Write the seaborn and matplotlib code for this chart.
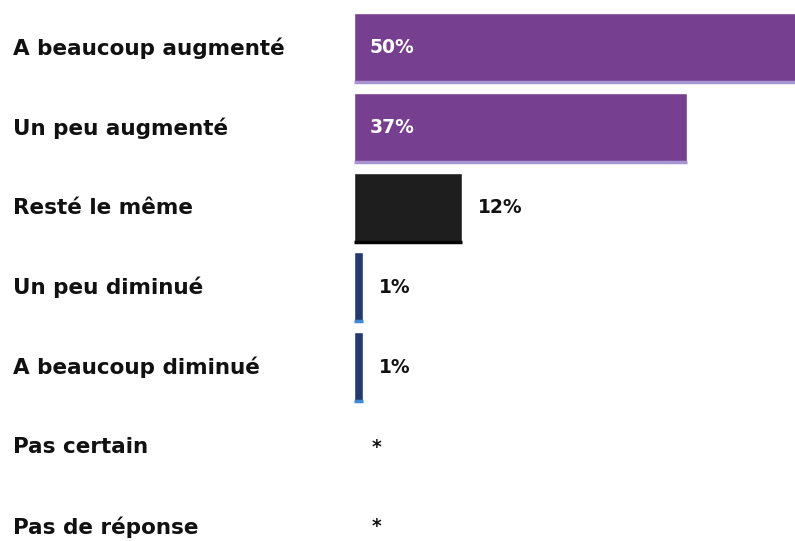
import numpy as np
import pandas as pd
import seaborn as sns
import matplotlib
matplotlib.use("Agg")
import matplotlib.pyplot as plt

categories = ["A beaucoup augmenté", "Un peu augmenté", "Resté le même",
              "Un peu diminué", "A beaucoup diminué", "Pas certain", "Pas de réponse"]
values = [50, 37, 12, 1, 1, 0, 0]
value_labels = ["50%", "37%", "12%", "1%", "1%", "*", "*"]
groups = ["up", "up", "same", "down", "down", "none", "none"]

fill = {"up": "#763f8f", "same": "#1e1e1e", "down": "#233a72", "none": "#ffffff"}
accent = {"up": "#a994d2", "same": "#050505", "down": "#3b8ad2", "none": "#ffffff"}

df = pd.DataFrame({"cat": categories, "val": values, "grp": groups})

sns.set_theme(style="white")
plt.rcParams['font.family'] = ['DejaVu Sans']

fig = plt.figure(figsize=(7.95, 5.41), dpi=100)
ax = fig.add_axes([354 / 795, 0, 1 - 354 / 795, 1])

sns.barplot(data=df, y="cat", x="val", hue="grp", palette=fill, dodge=False,
            width=0.88, legend=False, ax=ax, orient="h", saturation=1)

# thin accent line along the bottom of each bar
for p in ax.patches:
    w = p.get_width()
    if w <= 0:
        continue
    y0 = p.get_y() + p.get_height()
    c = accent[groups[int(round(p.get_y() + p.get_height() / 2))]]
    ax.plot([p.get_x(), p.get_x() + w], [y0 - 0.015, y0 - 0.015], color=c, lw=2.5,
            solid_capstyle="butt", clip_on=True)

ax.set_xlim(0, 49)
ax.set_ylim(6.176, -0.601)
ax.axis("off")

for i, (v, lab) in enumerate(zip(values, value_labels)):
    if v >= 30:
        ax.annotate(lab, (0, i), xytext=(16, 0), textcoords="offset pixels",
                    color="white", fontsize=13.5, fontweight="bold", va="center")
    elif v > 0:
        ax.annotate(lab, (v, i), xytext=(16, 0), textcoords="offset pixels",
                    color="#111111", fontsize=13.5, fontweight="bold", va="center")
    else:
        ax.annotate(lab, (0, i), xytext=(18, 0), textcoords="offset pixels",
                    color="#111111", fontsize=13.5, fontweight="bold", va="center")

for i, c in enumerate(categories):
    fig.text(13 / 795, 1 - (48 + i * 79.83) / 541, c, fontsize=15.5,
             fontweight="bold", color="#111111", va="center", ha="left")

fig.savefig("out.png", dpi=100)
